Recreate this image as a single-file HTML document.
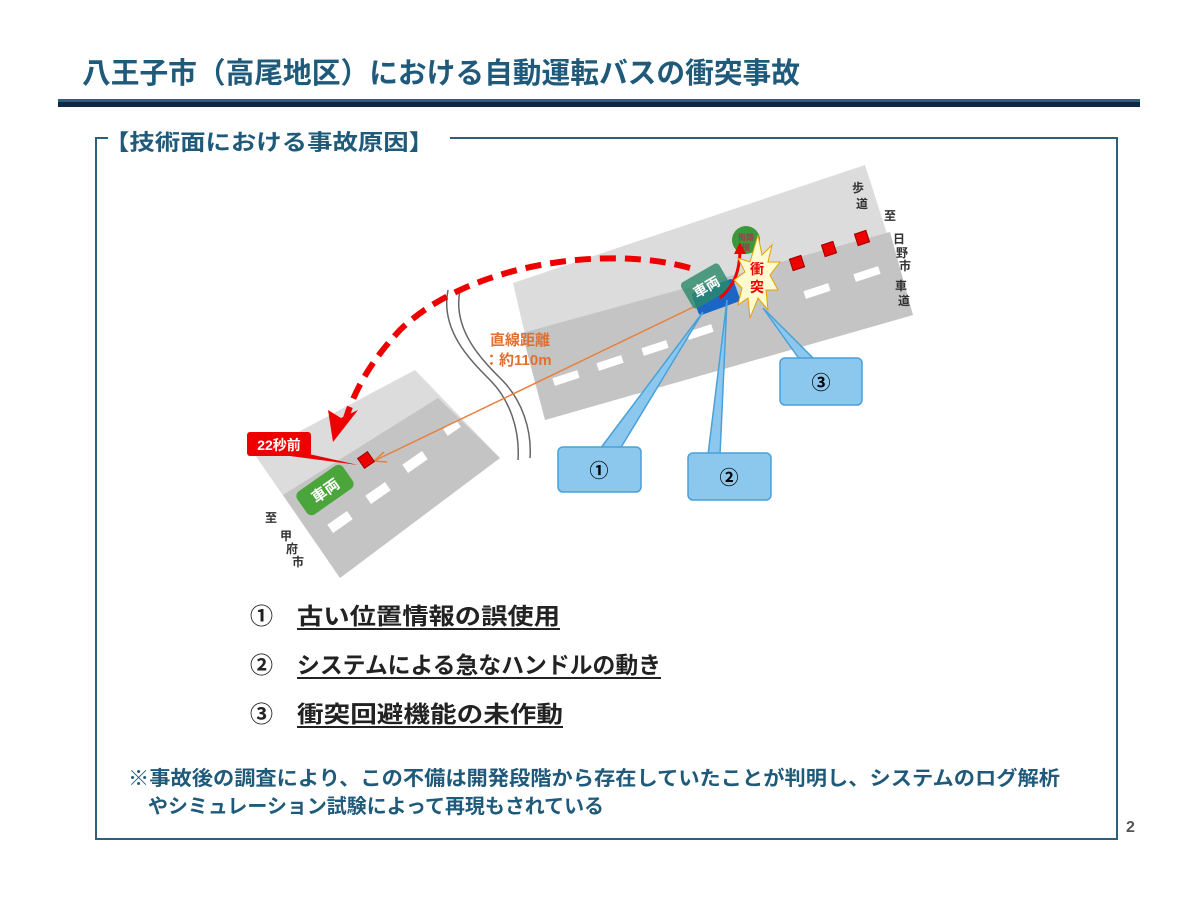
<!DOCTYPE html>
<html><head><meta charset="utf-8"><style>
html,body{margin:0;padding:0;background:#fff}
svg{display:block}
text{font-family:"Liberation Sans","Noto Sans CJK JP",sans-serif;font-weight:bold}
</style></head><body>
<svg width="1200" height="900" viewBox="0 0 1200 900" xmlns="http://www.w3.org/2000/svg">
<rect width="1200" height="900" fill="#fff"/>
<text x="82" y="83" font-size="29" fill="#1f5a7a" textLength="718" lengthAdjust="spacingAndGlyphs">八王子市（高尾地区）における自動運転バスの衝突事故</text>
<rect x="58" y="99" width="1082" height="3" fill="#2d5f7f"/>
<rect x="58" y="102" width="1082" height="5" fill="#0f2a40"/>
<path d="M108,138 H96 V839 H1117 V138 H450" fill="none" stroke="#2d5f7f" stroke-width="2"/>
<text x="104" y="150" font-size="22" fill="#1f5a7a" textLength="330" lengthAdjust="spacingAndGlyphs">【技術面における事故原因】</text>

<!-- left road -->
<polygon points="255,455 415,370 500,458 340,578" fill="#dcdcdc"/>
<polygon points="283,495 438,398 500,458 340,578" fill="#c4c4c4"/>
<g fill="#fff">
<rect x="-12" y="-5" width="24" height="10" transform="translate(340,522) rotate(-35)"/>
<rect x="-12" y="-5" width="24" height="10" transform="translate(378,493) rotate(-35)"/>
<rect x="-12" y="-5" width="24" height="10" transform="translate(415,462) rotate(-35)"/>
<rect x="-8" y="-4" width="16" height="8" transform="translate(452,428) rotate(-35)"/>
</g>
<!-- right road -->
<polygon points="513,283 865,165 913,315 545,420" fill="#dcdcdc"/>
<polygon points="522,333 890,232 913,315 545,420" fill="#c4c4c4"/>
<g fill="#fff">
<rect x="-13" y="-4" width="26" height="8" transform="translate(566,378) rotate(-18)"/>
<rect x="-13" y="-4" width="26" height="8" transform="translate(610,363) rotate(-18)"/>
<rect x="-13" y="-4" width="26" height="8" transform="translate(655,348) rotate(-18)"/>
<rect x="-13" y="-4" width="26" height="8" transform="translate(700,332) rotate(-18)"/>
<rect x="-13" y="-4" width="26" height="8" transform="translate(817,291) rotate(-18)"/>
<rect x="-13" y="-4" width="26" height="8" transform="translate(867,274) rotate(-18)"/>
</g>
<!-- river break -->
<path d="M448,290 C440,330 470,360 490,380 C510,400 520,430 518,460" fill="none" stroke="#666" stroke-width="1.5"/>
<path d="M460,290 C452,330 482,360 502,380 C522,400 532,430 530,458" fill="none" stroke="#666" stroke-width="1.5"/>
<!-- orange line -->
<line x1="708" y1="300" x2="376" y2="460" stroke="#e8803c" stroke-width="1.5"/>
<path d="M374,461 L384,452 M374,461 L387,462" stroke="#e8803c" stroke-width="1.5"/>
<text x="490" y="345" font-size="15" fill="#e07030">直線距離</text>
<text x="484" y="365" font-size="15" fill="#e07030">：約110m</text>
<!-- red squares -->
<g fill="#e00" stroke="#900" stroke-width="1">
<rect x="-6" y="-6" width="12" height="12" transform="translate(366,460) rotate(-35)"/>
<rect x="-6" y="-6" width="12" height="12" transform="translate(797,263) rotate(-18)"/>
<rect x="-6" y="-6" width="12" height="12" transform="translate(829,249) rotate(-18)"/>
<rect x="-6" y="-6" width="12" height="12" transform="translate(862,238) rotate(-18)"/>
</g>
<!-- green car left -->
<g transform="translate(325,490) rotate(-35)">
<rect x="-28" y="-14" width="56" height="28" rx="6" fill="#4aa63a"/>
<text x="0" y="6" font-size="15" fill="#fff" text-anchor="middle">車両</text>
</g>
<!-- 22秒前 -->
<polygon points="300,452 358,465 290,456" fill="#e00"/>
<rect x="247" y="432" width="64" height="24" rx="3" fill="#e00"/>
<text x="279" y="450" font-size="14" fill="#fff" text-anchor="middle">22秒前</text>
<!-- red dashed arc -->
<path d="M690,268 C610,245 470,262 400,330 C370,362 355,390 346,418" fill="none" stroke="#e00" stroke-width="6" stroke-dasharray="16,9"/>
<polygon points="333,442 328,410 341,418 358,410" fill="#e00"/>
<!-- tree -->
<circle cx="746" cy="240" r="14" fill="#3a9a3a"/>
<text x="746" y="240" font-size="8" fill="#a35" text-anchor="middle">街路</text>
<text x="746" y="250" font-size="8" fill="#a35" text-anchor="middle">樹</text>
<!-- cars right -->
<g transform="translate(716,297) rotate(-20)">
<rect x="-22" y="-12" width="44" height="24" rx="3" fill="#1b66c4"/>
</g>
<g transform="translate(706,286) rotate(-30)">
<rect x="-22" y="-15" width="44" height="30" rx="4" fill="#2a8a6a" opacity="0.8"/>
<text x="0" y="6" font-size="14" fill="#fff" text-anchor="middle">車両</text>
</g>
<path d="M720,298 C735,285 740,270 740,248" fill="none" stroke="#e00" stroke-width="3"/>
<polygon points="740,242 734,254 746,254" fill="#e00"/>
<!-- starburst -->
<polygon points="758,235 762,255 772,245 768,262 780,262 770,275 778,290 766,290 768,310 758,298 750,318 748,298 738,305 742,288 734,280 745,272 738,258 750,262" fill="#fffbd0" stroke="#e6a000" stroke-width="1"/>
<text x="757" y="274" font-size="14" fill="#e00" text-anchor="middle">衝</text>
<text x="757" y="292" font-size="14" fill="#e00" text-anchor="middle">突</text>
<!-- callouts -->
<g fill="#8cc8ee" stroke="#4aa0d8" stroke-width="1.5">
<polygon points="600,449 703,312 620,449"/>
<rect x="558" y="447" width="83" height="45" rx="5"/>
<polygon points="708,455 727,300 720,455"/>
<rect x="688" y="453" width="83" height="47" rx="5"/>
<polygon points="800,360 763,308 815,360"/>
<rect x="780" y="358" width="82" height="47" rx="5"/>
</g>
<g font-size="19" fill="#000" text-anchor="middle">
<text x="599" y="477">①</text>
<text x="729" y="484">②</text>
<text x="821" y="389">③</text>
</g>
<!-- labels -->
<g font-size="12" fill="#333" font-weight="normal">
<text x="852" y="192">歩</text><text x="856" y="208">道</text>
<text x="884" y="220">至</text>
<text x="893" y="243">日</text><text x="896" y="257">野</text><text x="899" y="270">市</text>
<text x="895" y="290">車</text><text x="898" y="305">道</text>
<text x="265" y="522">至</text>
<text x="280" y="540">甲</text><text x="286" y="553">府</text><text x="292" y="566">市</text>
</g>
<!-- list -->
<g font-size="23" fill="#222">
<text x="250" y="624">①</text>
<text x="297" y="624" textLength="263" lengthAdjust="spacingAndGlyphs">古い位置情報の誤使用</text>
<rect x="297" y="628" width="263" height="2" fill="#222"/>
<text x="250" y="673">②</text>
<text x="297" y="673" textLength="364" lengthAdjust="spacingAndGlyphs">システムによる急なハンドルの動き</text>
<rect x="297" y="677" width="364" height="2" fill="#222"/>
<text x="250" y="722">③</text>
<text x="297" y="722" textLength="266" lengthAdjust="spacingAndGlyphs">衝突回避機能の未作動</text>
<rect x="297" y="726" width="266" height="2" fill="#222"/>
</g>
<text x="128" y="785" font-size="20" fill="#1f5a7a" textLength="932" lengthAdjust="spacingAndGlyphs">※事故後の調査により、この不備は開発段階から存在していたことが判明し、システムのログ解析</text>
<text x="148" y="813" font-size="20" fill="#1f5a7a" textLength="456" lengthAdjust="spacingAndGlyphs">やシミュレーション試験によって再現もされている</text>
<text x="1126" y="832" font-size="16" fill="#555" font-weight="normal">2</text>
</svg>
</body></html>
